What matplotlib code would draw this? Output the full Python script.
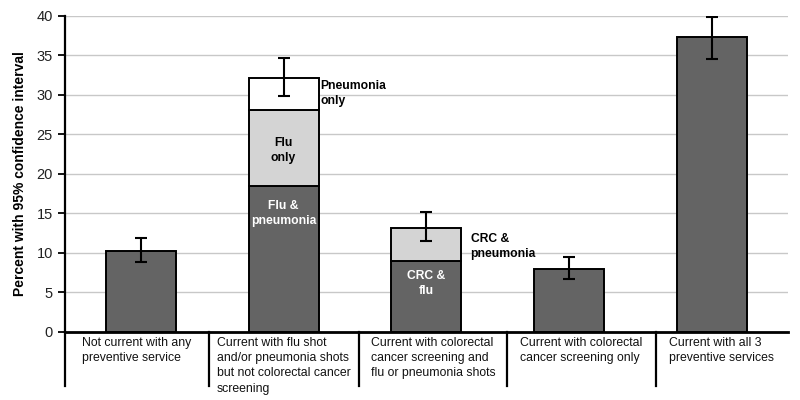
import numpy as np
import matplotlib.pyplot as plt
from matplotlib.lines import Line2D

plt.rcParams['font.family'] = ['Liberation Sans', 'DejaVu Sans']

# 数据
categories = ["Not current with any\npreventive service",
              "Current with flu shot\nand/or pneumonia shots\nbut not colorectal cancer\nscreening",
              "Current with colorectal\ncancer screening and\nflu or pneumonia shots",
              "Current with colorectal\ncancer screening only",
              "Current with all 3\npreventive services"]
dark_part = [10.2, 18.4, 9.0, 7.9, 37.3]     # 底部深灰
light_part = [0, 9.6, 4.1, 0, 0]            # 中间浅灰
white_part = [0, 4.1, 0, 0, 0]              # 顶部白色
ci_low = [8.8, 29.8, 11.45, 6.6, 34.5]
ci_high = [11.8, 34.6, 15.1, 9.4, 39.8]

x = np.arange(len(categories))
dark_part = np.array(dark_part)
light_part = np.array(light_part)
white_part = np.array(white_part)
total = dark_part + light_part + white_part

fig = plt.figure(figsize=(8, 4), dpi=100)
ax = fig.add_axes([0.081, 0.171, 0.904, 0.790])

w = 0.49
ax.bar(x, dark_part, width=w, color="#646464", edgecolor="black", linewidth=1.4, zorder=3)
m = light_part > 0
ax.bar(x[m], light_part[m], bottom=dark_part[m], width=w, color="#d4d4d4",
       edgecolor="black", linewidth=1.4, zorder=3)
m = white_part > 0
ax.bar(x[m], white_part[m], bottom=(dark_part + light_part)[m], width=w, color="white",
       edgecolor="black", linewidth=1.4, zorder=3)

# 误差线
yerr = [total - np.array(ci_low), np.array(ci_high) - total]
ax.errorbar(x, total, yerr=yerr, fmt="none", ecolor="black", elinewidth=1.5,
            capsize=4.5, capthick=1.5, zorder=4)

# 段内文字
ls = 1.35
ax.text(1.26, 30.1, "Pneumonia\nonly", fontsize=8.7, fontweight="bold", ha="left", va="center",
        linespacing=ls)
ax.text(1.0, 22.9, "Flu\nonly", fontsize=8.7, fontweight="bold", ha="center", va="center",
        linespacing=ls)
ax.text(1.0, 14.9, "Flu &\npneumonia", fontsize=8.7, fontweight="bold", color="white",
        ha="center", va="center", linespacing=ls)
ax.text(2.31, 10.8, "CRC &\npneumonia", fontsize=8.7, fontweight="bold", ha="left", va="center",
        linespacing=ls)
ax.text(2.0, 6.1, "CRC &\nflu", fontsize=8.7, fontweight="bold", color="white",
        ha="center", va="center", linespacing=ls)

# 坐标轴
ax.set_ylim(0, 40)
ax.set_xlim(-0.533, 4.534)
ax.set_yticks(range(0, 41, 5))
ax.tick_params(axis="y", labelsize=10.5, length=5, width=1.3, direction="out", labelcolor="#222222")
ax.set_xticks([])
ax.yaxis.grid(True, color="#c8c8c8", linewidth=1)
ax.set_axisbelow(True)
for s in ["top", "right"]:
    ax.spines[s].set_visible(False)
ax.spines["left"].set_linewidth(1.6)
ax.spines["bottom"].set_linewidth(2)
ax.set_ylabel("Percent with 95% confidence interval", fontsize=10, fontweight="bold", labelpad=7)

# 分类分隔线和标签
dividers = [-0.533, 0.477, 1.528, 2.565, 3.609, 4.534]
for i, d in enumerate(dividers[:-1]):
    ax.add_line(Line2D([d, d], [0, -6.9], color="black", linewidth=1.6, clip_on=False))
for i, lab in enumerate(categories):
    cx = (dividers[i] + dividers[i + 1]) / 2
    ax.text(cx, -0.7, lab, fontsize=8.8, ha="center", va="top", multialignment="left",
            linespacing=1.35, clip_on=False, color="#111111")

plt.savefig("out.png", dpi=100)
